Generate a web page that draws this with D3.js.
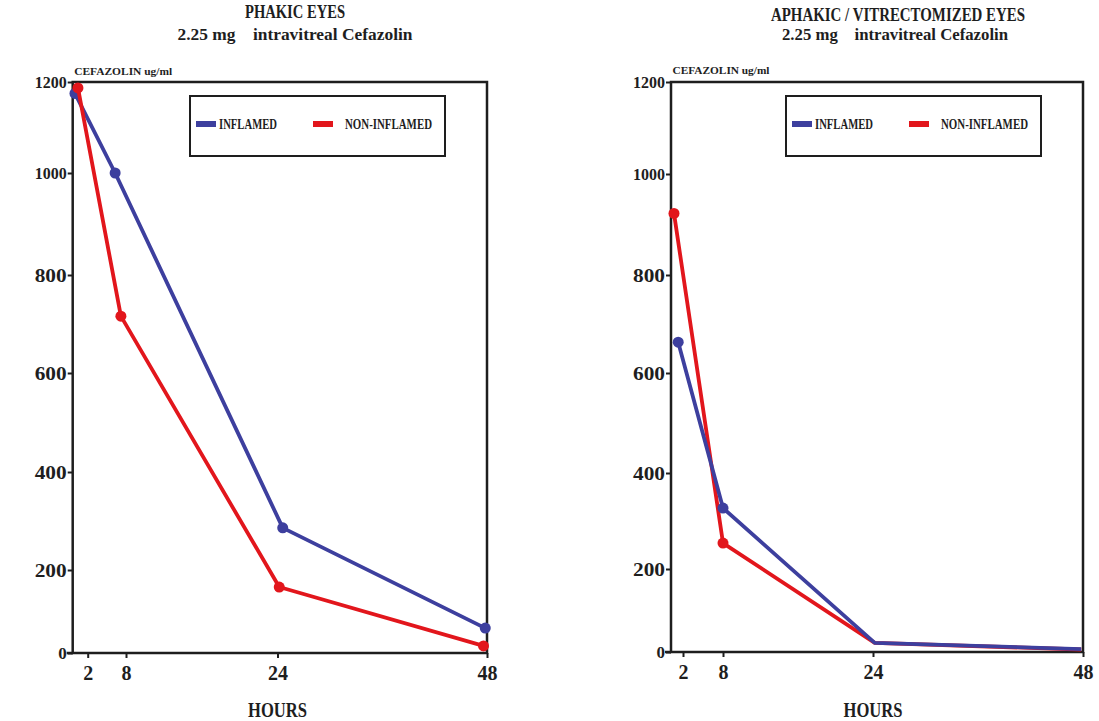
<!DOCTYPE html>
<html>

<head>
    <meta charset="utf-8">
    <style>
        body {
            margin: 0;
            background: #fff;
        }

        svg {
            display: block;
            font-family: 'Liberation Serif', 'Times New Roman', serif;
            font-weight: bold;
        }

        .axis .domain {
            display: none;
        }

        .axis .tick line {
            stroke: #1e1e1e;
            stroke-width: 2;
        }

        .axis .tick text {
            fill: #1e1e1e;
            font-family: 'Liberation Serif', 'Times New Roman', serif;
            font-weight: bold;
        }
    </style>
</head>

<body>
    <svg width="1099" height="721"></svg>

    <script src="https://d3js.org/d3.v7.min.js"></script>

    <script>
        // ---- data ----
        let hourTicks = [2, 8, 24, 48];
        let valueTicks = [0, 200, 400, 600, 800, 1000, 1200];
        let seriesNames = ["INFLAMED", "NON-INFLAMED"];

        // phakic eyes
        let phakicInflamedHours = [0.3, 6.3, 24.6, 47.8];
        let phakicInflamedValues = [1175, 1000, 286, 60];
        let phakicNonInflamedHours = [0.7, 7.2, 24.2, 47.6];
        let phakicNonInflamedValues = [1187, 716, 159, 17];

        // aphakic / vitrectomized eyes
        let aphakicInflamedHours = [1.2, 8, 24.2, 47.8];
        let aphakicInflamedValues = [663, 327, 22, 7];
        let aphakicNonInflamedHours = [0.5, 8, 24.2, 47.8];
        let aphakicNonInflamedValues = [922, 254, 22, 6];

        let blue = "#3d3f9e";
        let red = "#e2161c";

        let svg = d3.select("svg");

        // the original axes are hand drawn, so the scales are piecewise
        let panels = [
            {
                title: "PHAKIC EYES", titleX: 295, titleY: 18, titleSize: 18, titleLen: 100,
                subX: 295, subLen: 235,
                xRange: [72.7, 87.7, 126, 277.5, 487],
                yRange: [653, 570, 472, 373, 275, 173, 82],
                legendX: 190, legendY: 96,
                unitY: 75, unitLen: 98,
                series: [
                    { hours: phakicInflamedHours, values: phakicInflamedValues, color: blue, dots: [1, 1, 1, 1] },
                    { hours: phakicNonInflamedHours, values: phakicNonInflamedValues, color: red, dots: [1, 1, 1, 1] }
                ]
            },
            {
                title: "APHAKIC / VITRECTOMIZED EYES", titleX: 898, titleY: 21, titleSize: 19, titleLen: 254,
                subX: 895, subLen: 226,
                xRange: [671, 683, 723, 873, 1083],
                yRange: [652, 569, 473, 373, 275, 174, 82],
                legendX: 786, legendY: 96,
                unitY: 74, unitLen: 97,
                series: [
                    { hours: aphakicNonInflamedHours, values: aphakicNonInflamedValues, color: red, dots: [1, 1, 0, 0] },
                    { hours: aphakicInflamedHours, values: aphakicInflamedValues, color: blue, dots: [1, 1, 0, 0] }
                ]
            }
        ];

        panels.forEach(function (p) {
            let x = d3.scaleLinear()
                .domain([0].concat(hourTicks))
                .range(p.xRange);

            let y = d3.scaleLinear()
                .domain(valueTicks)
                .range(p.yRange);

            let g = svg.append("g");

            // titles
            g.append("text")
                .attr("x", p.titleX)
                .attr("y", p.titleY)
                .attr("text-anchor", "middle")
                .attr("font-size", p.titleSize)
                .attr("textLength", p.titleLen)
                .attr("lengthAdjust", "spacingAndGlyphs")
                .attr("fill", "#1e1e1e")
                .text(p.title);

            g.append("text")
                .attr("x", p.subX)
                .attr("y", 40)
                .attr("text-anchor", "middle")
                .attr("font-size", 17)
                .attr("textLength", p.subLen)
                .attr("lengthAdjust", "spacingAndGlyphs")
                .attr("fill", "#1e1e1e")
                .style("white-space", "pre")
                .text("2.25 mg    intravitreal Cefazolin");

            // y axis
            let yAxis = g.append("g")
                .attr("class", "axis")
                .attr("transform", `translate(${x(0)},0)`)
                .call(d3.axisLeft(y).tickValues(valueTicks).tickFormat(d3.format("d")).tickSize(5).tickPadding(1));

            yAxis.selectAll(".tick text")
                .attr("font-size", function (d) {
                    let n = String(d).length;
                    return n == 4 ? 16 : (n == 3 ? 19 : 17);
                })
                .attr("textLength", function (d) { return String(d).length > 1 ? 32 : null })
                .attr("lengthAdjust", "spacingAndGlyphs");

            // x axis
            let xAxis = g.append("g")
                .attr("class", "axis")
                .attr("transform", `translate(0,${y(0)})`)
                .call(d3.axisBottom(x).tickValues(hourTicks).tickSize(5).tickPadding(8));

            xAxis.selectAll(".tick text")
                .attr("font-size", 20)
                .attr("textLength", function (d) { return String(d).length > 1 ? 20 : null })
                .attr("lengthAdjust", "spacingAndGlyphs");

            // plot frame
            g.append("rect")
                .attr("x", x(0))
                .attr("y", y(1200))
                .attr("width", x(48) - x(0))
                .attr("height", y(0) - y(1200))
                .attr("fill", "none")
                .attr("stroke", "#1e1e1e")
                .attr("stroke-width", 2.5);

            g.append("line")
                .attr("x1", x(0) - 6)
                .attr("x2", x(0))
                .attr("y1", y(0))
                .attr("y2", y(0))
                .attr("stroke", "#1e1e1e")
                .attr("stroke-width", 2.5);

            // axis titles
            g.append("text")
                .attr("x", x(0) + 1.5)
                .attr("y", p.unitY)
                .attr("font-size", 11)
                .attr("textLength", p.unitLen)
                .attr("lengthAdjust", "spacingAndGlyphs")
                .attr("fill", "#1e1e1e")
                .text("CEFAZOLIN ug/ml");

            g.append("text")
                .attr("x", x(24))
                .attr("y", 717)
                .attr("text-anchor", "middle")
                .attr("font-size", 21)
                .attr("textLength", 59)
                .attr("lengthAdjust", "spacingAndGlyphs")
                .attr("fill", "#1e1e1e")
                .text("HOURS");

            // legend
            let legend = g.append("g")
                .attr("transform", `translate(${p.legendX},${p.legendY})`);

            legend.append("rect")
                .attr("width", 255)
                .attr("height", 60)
                .attr("fill", "#fff")
                .attr("stroke", "#1e1e1e")
                .attr("stroke-width", 2);

            let legendItems = [
                { name: seriesNames[0], color: blue, sw: 6, tx: 29, len: 58 },
                { name: seriesNames[1], color: red, sw: 123, tx: 155, len: 87 }
            ];

            legendItems.forEach(function (item) {
                legend.append("line")
                    .attr("x1", item.sw)
                    .attr("x2", item.sw + 20)
                    .attr("y1", 28)
                    .attr("y2", 28)
                    .attr("stroke", item.color)
                    .attr("stroke-width", 6);

                legend.append("text")
                    .attr("x", item.tx)
                    .attr("y", 33)
                    .attr("font-size", 15)
                    .attr("textLength", item.len)
                    .attr("lengthAdjust", "spacingAndGlyphs")
                    .attr("fill", "#1e1e1e")
                    .text(item.name);
            });

            // lines and points
            let line = d3.line()
                .x(function (d) { return x(d.hour) })
                .y(function (d) { return y(d.value) });

            p.series.forEach(function (s) {
                let rows = s.hours.map(function (h, i) {
                    return { hour: h, value: s.values[i], dot: s.dots[i] };
                });

                g.append("path")
                    .datum(rows)
                    .attr("d", line)
                    .attr("fill", "none")
                    .attr("stroke", s.color)
                    .attr("stroke-width", 3.8)
                    .attr("stroke-linejoin", "round");

                g.append("g")
                    .selectAll("circle")
                    .data(rows.filter(function (d) { return d.dot }))
                    .join("circle")
                    .attr("cx", function (d) { return x(d.hour) })
                    .attr("cy", function (d) { return y(d.value) })
                    .attr("r", 5.5)
                    .attr("fill", s.color);
            });
        });
    </script>
</body>

</html>
